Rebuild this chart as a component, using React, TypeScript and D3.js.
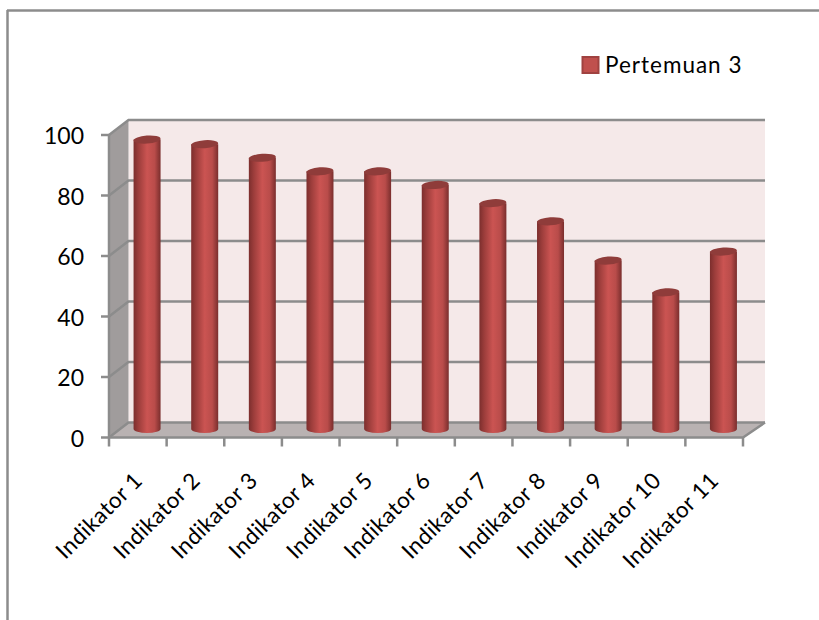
import * as d3 from "d3";

const categories = ["Indikator 1", "Indikator 2", "Indikator 3", "Indikator 4", "Indikator 5", "Indikator 6", "Indikator 7", "Indikator 8", "Indikator 9", "Indikator 10", "Indikator 11"];
const values = [96, 94.5, 90, 85.5, 85.5, 81, 75, 69, 56, 45.5, 59];
const yTicks = [0, 20, 40, 60, 80, 100];
const legendLabel = "Pertemuan 3";

const width = 819;
const height = 620;
const font = "Lato, 'Open Sans', sans-serif";
const axisColor = "#8c8c8c";

// front plane of the 3d box, the back wall is shifted by depth
const x = d3.scaleBand<string>().domain(categories).range([109, 743]);
const y = d3.scaleLinear().domain([0, 100]).range([437.5, 135]);
const depthX = 19.5;
const depthXRight = 22;
const depthY = -15;

export default function App() {
    const x0 = x.range()[0];
    const x1 = x.range()[1];
    const y0 = y(0);
    const y100 = y(100);
    const bw = 27;
    const ry = 4;

    return (
        <svg width={width} height={height} style={{ position: "absolute", left: 0, top: 0 }}>
            <defs>
                <linearGradient id="bar" x1="0" x2="1" y1="0" y2="0">
                    <stop offset="0" stopColor="#7c2e2d" />
                    <stop offset="0.18" stopColor="#9c3d3b" />
                    <stop offset="0.5" stopColor="#cb5452" />
                    <stop offset="0.78" stopColor="#b94c4a" />
                    <stop offset="1" stopColor="#7a2e2d" />
                </linearGradient>
            </defs>

            {/* outer frame, only top and left show */}
            <line x1={7} x2={width} y1={10.5} y2={10.5} stroke={axisColor} strokeWidth={2.5} />
            <line x1={7.5} x2={7.5} y1={10} y2={height} stroke={axisColor} strokeWidth={2.5} />

            {/* walls */}
            <rect x={x0 + depthX} y={y100 + depthY} width={x1 + depthXRight - x0 - depthX} height={y0 - y100} fill="#f5e9e9" />
            <polygon
                points={`${x0},${y100} ${x0 + depthX},${y100 + depthY} ${x0 + depthX},${y0 + depthY} ${x0},${y0}`}
                fill="#a09c9c"
            />
            <polygon
                points={`${x0},${y0} ${x0 + depthX},${y0 + depthY} ${x1 + depthXRight},${y0 + depthY} ${x1},${y0}`}
                fill="#b9b2b2"
            />

            {/* gridlines and y axis */}
            {yTicks.map((t) => (
                <g key={t}>
                    <polyline
                        points={`${x0},${y(t)} ${x0 + depthX},${y(t) + depthY} ${x1 + depthXRight},${y(t) + depthY}`}
                        fill="none"
                        stroke={axisColor}
                        strokeWidth={2.5}
                    />
                    <line x1={x0 - 8} x2={x0} y1={y(t)} y2={y(t)} stroke={axisColor} strokeWidth={2.5} />
                    <text x={84} y={y(t) + 9} textAnchor="end" fontFamily={font} fontSize={23} fill="#000">
                        {t}
                    </text>
                </g>
            ))}
            <line x1={x0} x2={x0} y1={y100} y2={y0 + 9} stroke={axisColor} strokeWidth={2.5} />

            {/* floor front edge and right side */}
            <polyline
                points={`${x0},${y0} ${x1},${y0} ${x1 + depthXRight},${y0 + depthY}`}
                fill="none"
                stroke={axisColor}
                strokeWidth={2.5}
            />
            {categories.map((c) => (
                <line
                    key={c}
                    x1={(x(c) ?? 0) + x.bandwidth()}
                    x2={(x(c) ?? 0) + x.bandwidth()}
                    y1={y0}
                    y2={y0 + 9}
                    stroke={axisColor}
                    strokeWidth={2.5}
                />
            ))}

            {/* cylinders */}
            {categories.map((c, i) => {
                const cx = (x(c) ?? 0) + x.bandwidth() / 2 + depthX / 2 - 0.5;
                const top = y(values[i]) + depthY / 2;
                const bottom = y(0) + depthY / 2 - 1;
                return (
                    <g key={c}>
                        <path
                            d={`M${cx - bw / 2},${top} L${cx - bw / 2},${bottom} A${bw / 2},${ry} 0 0 0 ${cx + bw / 2},${bottom} L${cx + bw / 2},${top} Z`}
                            fill="url(#bar)"
                        />
                        <ellipse cx={cx} cy={top} rx={bw / 2} ry={ry} fill="#8f3c3a" transform={`rotate(-4 ${cx} ${top})`} />
                    </g>
                );
            })}

            {/* category labels */}
            {categories.map((c) => {
                const tx = (x(c) ?? 0) + x.bandwidth() / 2 - 6.5;
                const ty = y0 + 32;
                return (
                    <text
                        key={c}
                        transform={`translate(${tx},${ty}) rotate(-45)`}
                        textAnchor="end"
                        dominantBaseline="hanging"
                        fontFamily={font}
                        fontSize={22.5}
                        letterSpacing={0.4}
                        fill="#000"
                    >
                        {c}
                    </text>
                );
            })}

            {/* legend */}
            <rect x={582.5} y={57} width={16} height={16} fill="#c0504d" stroke="#a04240" strokeWidth={2} />
            <text x={605} y={73} fontFamily={font} fontSize={22.5} letterSpacing={1} fill="#000">
                {legendLabel}
            </text>
        </svg>
    );
}
